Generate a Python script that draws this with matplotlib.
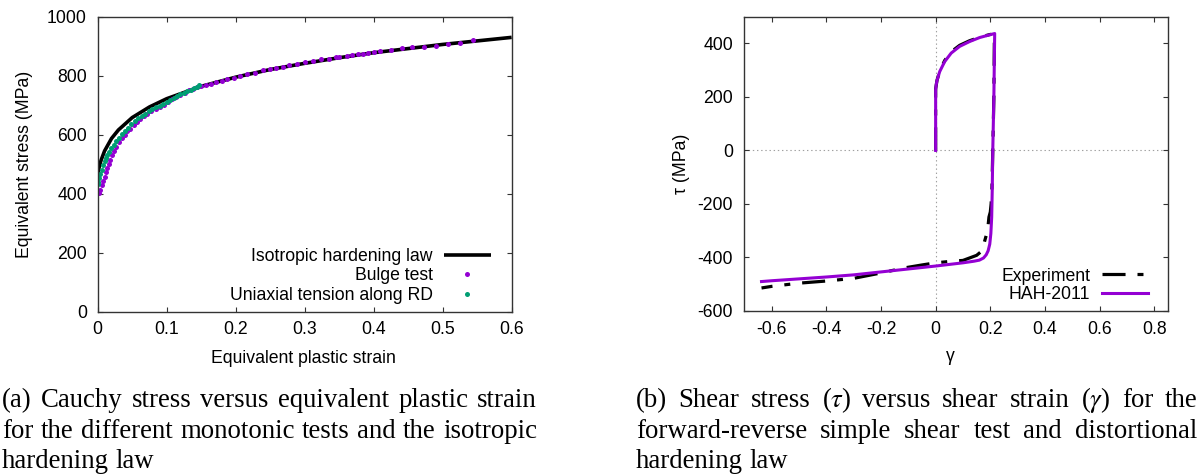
import matplotlib
matplotlib.use('Agg')
import matplotlib.pyplot as plt

# ---------------- data ----------------
# (a) isotropic hardening law
iso_strain = [0.0, 0.001, 0.0025, 0.005, 0.01, 0.02, 0.03, 0.05, 0.075, 0.1, 0.15,
              0.2, 0.25, 0.3, 0.35, 0.4, 0.45, 0.5, 0.55, 0.6]
iso_stress = [465, 478, 493, 514, 545, 587, 616, 658, 694, 722, 764,
              795, 821, 842, 861, 878, 892, 906, 918, 930]

# (a) bulge test
bulge_strain = [0.002, 0.004, 0.006, 0.008, 0.010, 0.012, 0.014, 0.016, 0.018, 0.021,
                0.024, 0.027, 0.031, 0.035, 0.039, 0.043, 0.047, 0.052, 0.057, 0.062,
                0.067, 0.072, 0.078, 0.084, 0.090, 0.096, 0.102, 0.108, 0.114, 0.120,
                0.126, 0.132, 0.138, 0.144, 0.150, 0.157, 0.164, 0.172, 0.180, 0.188,
                0.197, 0.206, 0.216, 0.228, 0.240, 0.250, 0.259, 0.268, 0.278, 0.289,
                0.301, 0.312, 0.324, 0.336, 0.346, 0.350, 0.361, 0.369, 0.378, 0.385,
                0.392, 0.400, 0.409, 0.425, 0.441, 0.456, 0.473, 0.490, 0.508, 0.525,
                0.544]
bulge_stress = [401, 414, 428, 443, 458, 472, 486, 500, 514, 530,
                546, 560, 575, 588, 600, 611, 621, 632, 643, 653,
                662, 670, 679, 687, 695, 702, 712, 720, 728, 736,
                743, 750, 756, 762, 765, 769, 773, 778, 783, 788,
                793, 800, 806, 810, 818, 823, 826, 830, 836, 840,
                845, 849, 855, 858, 862, 864, 867, 870, 873, 875,
                877, 879, 883, 887, 893, 897, 899, 902, 909, 912,
                921]

# (a) uniaxial tension along RD
uni_strain = [0.000, 0.001, 0.002, 0.004, 0.006, 0.008, 0.010, 0.012, 0.014, 0.017,
              0.020, 0.023, 0.027, 0.031, 0.035, 0.039, 0.044, 0.049, 0.054, 0.059,
              0.064, 0.069, 0.074, 0.079, 0.085, 0.090, 0.095, 0.100, 0.105, 0.110,
              0.115, 0.120, 0.125, 0.130, 0.135, 0.140, 0.144, 0.147]
uni_stress = [432, 441, 452, 467, 482, 497, 510, 520, 530, 542,
              554, 565, 578, 590, 602, 612, 624, 635, 645, 655,
              664, 671, 680, 686, 693, 699, 705, 712, 718, 724,
              730, 737, 742, 748, 753, 758, 763, 768]

# (b) forward-reverse simple shear: experiment
exp_gamma = [0.0, 0.0, 0.005, 0.015, 0.033, 0.057, 0.088, 0.124, 0.161, 0.197, 0.215,
             0.213, 0.209, 0.206, 0.203, 0.200, 0.195, 0.190, 0.180, 0.170, 0.150,
             0.100, 0.050, 0.0, -0.05, -0.12, -0.2, -0.3, -0.4, -0.5, -0.6, -0.637]
exp_tau = [0, 230, 262, 297, 336, 369, 393, 410, 423, 433, 436,
           200, 0, -140, -199, -230, -249, -300, -336, -375, -392,
           -411, -415, -420, -428, -440, -458, -478, -488, -496, -508, -514]

# (b) HAH-2011 model
hah_gamma = [0.0, 0.0, 0.002, 0.005, 0.015, 0.033, 0.057, 0.088, 0.124, 0.161, 0.197,
             0.216, 0.213, 0.209, 0.207, 0.205, 0.202, 0.198, 0.192, 0.185, 0.175,
             0.160, 0.140, 0.100, 0.050, 0.0, -0.1, -0.2, -0.3, -0.4, -0.5, -0.6, -0.637]
hah_tau = [0, 226, 245, 262, 295, 332, 364, 389, 407, 422, 432,
           437, 200, 0, -150, -250, -310, -350, -375, -390, -402,
           -410, -414, -420, -426, -432, -443, -454, -465, -473, -480, -487, -490]

xticks_a = [0, 0.1, 0.2, 0.3, 0.4, 0.5, 0.6]
yticks_a = [0, 200, 400, 600, 800, 1000]
xticks_b = [-0.6, -0.4, -0.2, 0, 0.2, 0.4, 0.6, 0.8]
yticks_b = [-600, -400, -200, 0, 200, 400]

PURPLE = '#9400D3'
GREEN = '#009E73'

plt.rcParams['font.family'] = ['Liberation Sans', 'DejaVu Sans']
plt.rcParams['axes.unicode_minus'] = False
plt.rcParams['lines.scale_dashes'] = False
plt.rcParams['mathtext.fontset'] = 'stix'

FS = 12.7

fig = plt.figure(figsize=(12.03, 4.75), dpi=100)
ax1 = fig.add_axes([0.0812, 0.3438, 0.3441, 0.621])
ax2 = fig.add_axes([0.6187, 0.3453, 0.3522, 0.6196])


def style_axes(ax):
    for s in ax.spines.values():
        s.set_color('#333333')
        s.set_linewidth(1.0)
    ax.tick_params(direction='in', length=3.8, width=0.8, top=True, right=True,
                   labelsize=FS, color='#333333')
    ax.tick_params(axis='x', pad=7)
    ax.tick_params(axis='y', pad=7.7)


# ---- (a) ----
ax1.plot(iso_strain, iso_stress, color='black', lw=2.6, label='Isotropic hardening law',
         solid_capstyle='butt')
ax1.plot(bulge_strain, bulge_stress, ls='none', marker='o', ms=3.6, mew=0, color=PURPLE,
         label='Bulge test')
ax1.plot(uni_strain, uni_stress, ls='none', marker='o', ms=3.6, mew=0, color=GREEN,
         label='Uniaxial tension along RD')
ax1.set_xlim(0, 0.6)
ax1.set_ylim(0, 1000)
ax1.set_xticks(xticks_a)
ax1.set_xticklabels(['0', '0.1', '0.2', '0.3', '0.4', '0.5', '0.6'])
ax1.set_yticks(yticks_a)
style_axes(ax1)
ax1.set_xlabel('Equivalent plastic strain', fontsize=FS)
ax1.set_ylabel('Equivalent stress (MPa)', fontsize=FS)
ax1.xaxis.label.set_va('baseline')
ax1.xaxis.set_label_coords(0.496, -0.174)
ax1.yaxis.label.set_va('center')
ax1.yaxis.set_label_coords(-0.1756, 0.5)
ax1.legend(loc='lower right', bbox_to_anchor=(0.950, 0.026), borderaxespad=0, borderpad=0,
           frameon=False, markerfirst=False, fontsize=FS, handlelength=2.67,
           handletextpad=0.63, labelspacing=0.15, numpoints=1)

# ---- (b) ----
ax2.axhline(0, color='#a0a0a0', lw=0.8, ls=(0, (1, 2)), zorder=0)
ax2.axvline(0, color='#a0a0a0', lw=0.8, ls=(0, (1, 2)), zorder=0)
ax2.plot(exp_gamma, exp_tau, color='black', lw=2.3, dashes=(16.6, 8.6, 4.3, 8.6),
         label='Experiment', dash_capstyle='butt')
ax2.plot(hah_gamma, hah_tau, color=PURPLE, lw=2.2, label='HAH-2011')
ax2.set_xlim(-0.7, 0.85)
ax2.set_ylim(-600, 500)
ax2.set_xticks(xticks_b)
ax2.set_xticklabels(['-0.6', '-0.4', '-0.2', '0', '0.2', '0.4', '0.6', '0.8'])
ax2.set_yticks(yticks_b)
style_axes(ax2)
ax2.tick_params(axis='y', pad=8.1)
ax2.set_xlabel('\u03b3', fontsize=FS)
ax2.set_ylabel('\u03c4 (MPa)', fontsize=FS)
ax2.xaxis.label.set_va('baseline')
ax2.xaxis.set_label_coords(0.486, -0.17)
ax2.yaxis.label.set_va('center')
ax2.yaxis.set_label_coords(-0.1477, 0.5)
ax2.legend(loc='lower right', bbox_to_anchor=(0.953, 0.026), borderaxespad=0, borderpad=0,
           frameon=False, markerfirst=False, fontsize=FS, handlelength=2.63,
           handletextpad=0.66, labelspacing=0.1)

# ---- captions (justified serif text) ----
W, H = 1203.0, 475.0
CFS = 19.3
renderer = fig.canvas.get_renderer()


def caption_line(text, x0, x1, ybase, justify=True):
    words = text.split(' ')
    ts = [fig.text(0, 1 - ybase / H, w, fontsize=CFS, family='Liberation Serif',
                   va='baseline', ha='left') for w in words]
    widths = [t.get_window_extent(renderer).width for t in ts]
    if justify and len(words) > 1:
        gap = ((x1 - x0) - sum(widths)) / (len(words) - 1)
    else:
        sp = fig.text(0, 0, 'a a', fontsize=CFS, family='Liberation Serif')
        sp2 = fig.text(0, 0, 'aa', fontsize=CFS, family='Liberation Serif')
        gap = sp.get_window_extent(renderer).width - sp2.get_window_extent(renderer).width
        sp.remove(); sp2.remove()
    x = x0
    for t, w in zip(ts, widths):
        t.set_x(x / W)
        x += w + gap


caption_line('(a) Cauchy stress versus equivalent plastic strain', 2, 537, 406.7)
caption_line('for the different monotonic tests and the isotropic', 2, 537, 438)
caption_line('hardening law', 2, 537, 467.7, justify=False)
caption_line('(b) Shear stress ($\\tau$) versus shear strain ($\\gamma$) for the', 636, 1197, 406.7)
caption_line('forward-reverse simple shear test and distortional', 636, 1197, 438)
caption_line('hardening law', 636, 1197, 467.7, justify=False)

fig.savefig('out.png', dpi=100)
